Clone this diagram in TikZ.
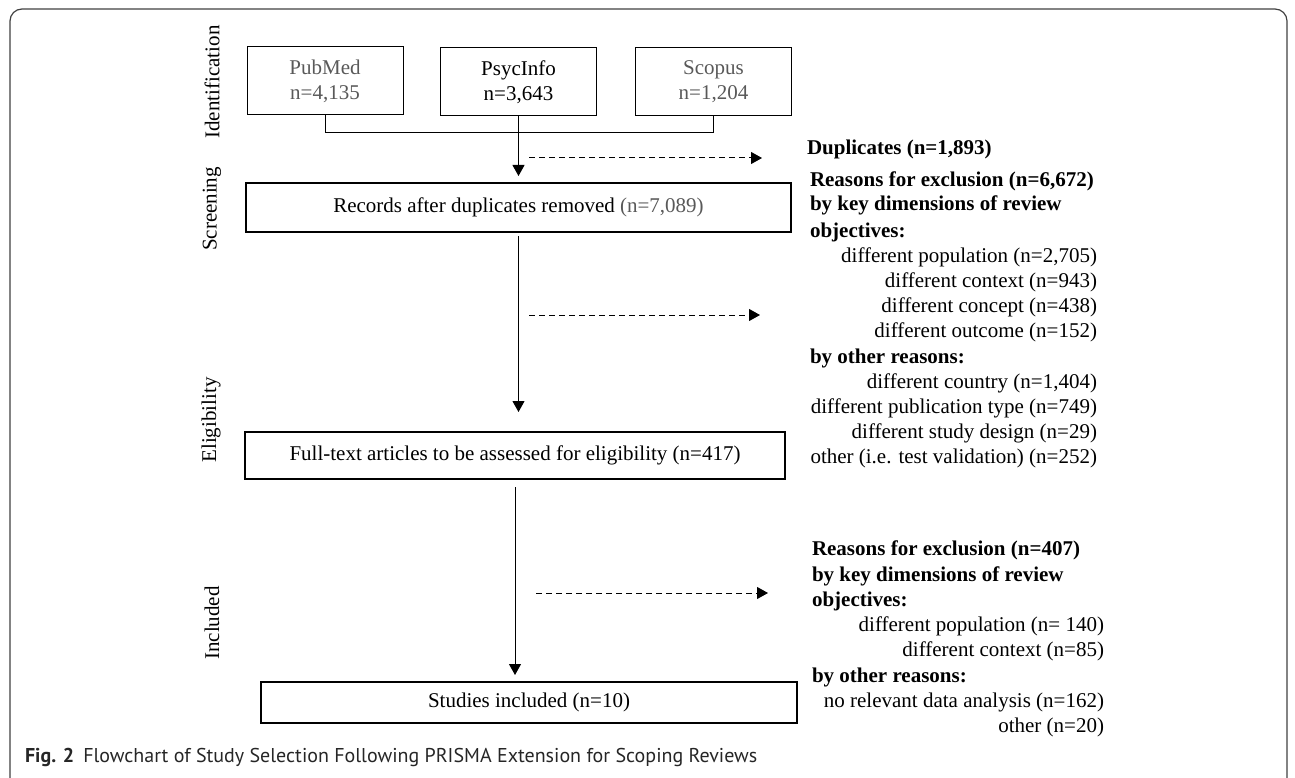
\documentclass[tikz,border=0pt]{standalone}
\usepackage{fontspec}
\setmainfont{Liberation Serif}
\newfontfamily\capfont{PT Sans}
\usetikzlibrary{arrows.meta,calc}
\begin{document}
\begin{tikzpicture}[x=1pt,y=-1pt,
  every node/.style={inner sep=0pt, outer sep=0pt},
  txt/.style={font=\fontsize{21}{25.2}\selectfont, text height=15pt, text depth=5pt},
  btxt/.style={font=\fontsize{21}{25.2}\selectfont\bfseries, text height=15pt, text depth=5pt},
  dbbox/.style={draw, line width=1pt, minimum width=156pt, minimum height=68pt, align=center, font=\fontsize{21}{25}\selectfont},
  mainbox/.style={draw, line width=1.8pt, font=\fontsize{21}{25}\selectfont},
  arr/.style={line width=1pt, -{Triangle[width=12pt,length=11pt]}},
  darr/.style={line width=1pt, dash pattern=on 6pt off 4pt, -{Triangle[width=12pt,length=11pt]}},
  stage/.style={rotate=90, font=\fontsize{21}{25}\selectfont},
  soft/.style={black!65}
]
\useasboundingbox (0,0) rectangle (1295,778);
\draw[line width=1.2pt, black!75, rounded corners=12pt] (10,9) rectangle (1287,790);

% stage labels
\node[stage] (lid) at (212,82) {Identification};
\node[stage] (lsc) at (212,209) {Screening};
\node[stage] (lel) at (211,420) {Eligibility};
\node[stage] (lin) at (212,623) {Included};

% database boxes
\node[dbbox] (pub) at (325,81) {\textcolor{black!65}{PubMed}\\\textcolor{black!65}{n=4,135}};
\node[dbbox] (psy) at (518.5,82) {PsycInfo\\n=3,643};
\node[dbbox] (sco) at (713.5,82) {\textcolor{black!65}{Scopus}\\\textcolor{black!65}{n=1,204}};

% main boxes
\node[mainbox, minimum width=545pt, minimum height=49pt] (rec) at (518.5,207.5) {Records after duplicates removed \textcolor{black!65}{(n=7,089)}};
\node[mainbox, minimum width=540pt, minimum height=47pt] (full) at (515,455.5) {Full-text articles to be assessed for eligibility (n=417)};
\node[mainbox, minimum width=536pt, minimum height=41pt] (stud) at (529,702.5) {Studies included (n=10)};

% connectors
\draw[line width=1pt] (pub.south) -- ++(0,18) -| (sco.south);
\draw[arr, shorten >=7pt] (psy.south) -- (psy.south |- rec.north);
\draw[arr, shorten <=4pt, shorten >=20pt] (rec.south) -- (rec.south |- full.north);
\draw[arr, shorten <=8pt, shorten >=7pt] (full.south) -- (full.south |- stud.north);

\coordinate (d1a) at (529,158);
\coordinate (d1b) at (762,158);
\coordinate (d2a) at (529,315);
\coordinate (d2b) at (760,315);
\coordinate (d3a) at (536,593);
\coordinate (d3b) at (768,593);
\draw[darr] (d1a) -- (d1b);
\draw[darr] (d2a) -- (d2b);
\draw[darr] (d3a) -- (d3b);

% exclusion texts, block 1
\node[btxt, anchor=west] (dup) at (807,150) {Duplicates (n=1,893)};
\node[btxt, anchor=west] (r1) at (810,181) {Reasons for exclusion (n=6,672)};
\node[btxt, anchor=west] (r2) at (810,206) {by key dimensions of review};
\node[btxt, anchor=west] (r3) at (810,232) {objectives:};
\node[txt, anchor=east] (r4) at (1097,257) {different population (n=2,705)};
\node[txt, anchor=east] (r5) at (1097,282) {different context (n=943)};
\node[txt, anchor=east] (r6) at (1097,307) {different concept (n=438)};
\node[txt, anchor=east] (r7) at (1097,332) {different outcome (n=152)};
\node[btxt, anchor=west] (r8) at (810,358) {by other reasons:};
\node[txt, anchor=east] (r9) at (1097,383) {different country (n=1,404)};
\node[txt, anchor=east] (r10) at (1097,408) {different publication type (n=749)};
\node[txt, anchor=east] (r11) at (1097,433) {different study design (n=29)};
\node[txt, anchor=east] (r12) at (1097,458) {other (i.e. test validation) (n=252)};

% exclusion texts, block 2
\node[btxt, anchor=west] (s1) at (812,550) {Reasons for exclusion (n=407)};
\node[btxt, anchor=west] (s2) at (812,576) {by key dimensions of review};
\node[btxt, anchor=west] (s3) at (812,601) {objectives:};
\node[txt, anchor=east] (s4) at (1104,626) {different population (n= 140)};
\node[txt, anchor=east] (s5) at (1104,651) {different context (n=85)};
\node[btxt, anchor=west] (s6) at (812,677) {by other reasons:};
\node[txt, anchor=east] (s7) at (1104,702) {no relevant data analysis (n=162)};
\node[txt, anchor=east] (s8) at (1104,727) {other (n=20)};

% caption
\node[anchor=west, font=\capfont\fontsize{20}{23}\selectfont, text=black!85] (cap) at (25,757) {\textbf{Fig. 2}\hspace{9pt}Flowchart of Study Selection Following PRISMA Extension for Scoping Reviews};
\end{tikzpicture}
\end{document}
